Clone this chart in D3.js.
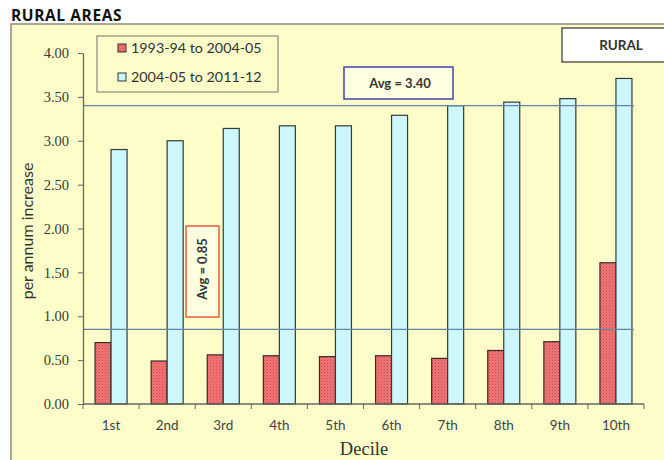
<!DOCTYPE html>
<html>
<head>
<meta charset="utf-8">
<script src="https://cdn.jsdelivr.net/npm/d3@7"></script>
<style>
  html, body { margin: 0; padding: 0; background: #ffffff; }
  svg { display: block; }
</style>
</head>
<body>
<svg id="chart" width="664" height="460"></svg>
<script>
// Per-annum increase in consumption by decile, rural areas
const deciles = ["1st", "2nd", "3rd", "4th", "5th", "6th", "7th", "8th", "9th", "10th"];
const seriesNames = ["1993-94 to 2004-05", "2004-05 to 2011-12"];
const period1 = [0.70, 0.49, 0.56, 0.55, 0.54, 0.55, 0.52, 0.61, 0.71, 1.61];
const period2 = [2.90, 3.00, 3.14, 3.17, 3.17, 3.29, 3.40, 3.44, 3.48, 3.71];
const averages = [0.85, 3.40];
const yTicks = [0, 0.5, 1, 1.5, 2, 2.5, 3, 3.5, 4];

const svg = d3.select("#chart");
const sans = "Lato, 'Open Sans', sans-serif";
const serif = "'Liberation Serif', 'DejaVu Serif', serif";

// Plot region
const plotL = 83, plotR = 644, plotT = 53, plotB = 404;

const x = d3.scaleBand().domain(deciles).range([plotL, plotR]);
const y = d3.scaleLinear().domain([0, 4]).range([plotB, plotT]);
const barW = 16;

// Hatched fill for the first period
const defs = svg.append("defs");
const pat = defs.append("pattern")
  .attr("id", "hatchRed").attr("patternUnits", "userSpaceOnUse")
  .attr("width", 3).attr("height", 3);
pat.append("rect").attr("width", 3).attr("height", 3).attr("fill", "#f27474");
pat.append("rect").attr("x", 0).attr("y", 0).attr("width", 1).attr("height", 1).attr("fill", "#c84a4a");
pat.append("rect").attr("x", 1.5).attr("y", 1.5).attr("width", 1).attr("height", 1).attr("fill", "#d85a5a");

// Chart area
svg.append("rect").attr("x", 11).attr("y", 24).attr("width", 670).attr("height", 460)
  .attr("fill", "#fdfdc9").attr("stroke", "#8a8a80").attr("stroke-width", 1.5);

// Title
svg.append("text").attr("x", 11).attr("y", 21)
  .attr("font-family", "'Open Sans', sans-serif").attr("font-weight", 700)
  .attr("font-size", 15.5).attr("letter-spacing", 0.6).attr("fill", "#111").text("RURAL AREAS");

// Bars
const g = svg.append("g");
g.selectAll("rect.p1").data(period1).join("rect")
  .attr("class", "p1")
  .attr("x", (d, i) => x(deciles[i]) + x.bandwidth() / 2 - barW)
  .attr("y", d => y(d))
  .attr("width", barW)
  .attr("height", d => y(0) - y(d))
  .attr("fill", "url(#hatchRed)")
  .attr("stroke", "#3a2a2a").attr("stroke-width", 1.2);

g.selectAll("rect.p2").data(period2).join("rect")
  .attr("class", "p2")
  .attr("x", (d, i) => x(deciles[i]) + x.bandwidth() / 2)
  .attr("y", d => y(d))
  .attr("width", barW)
  .attr("height", d => y(0) - y(d))
  .attr("fill", "#ccf7fc")
  .attr("stroke", "#333a3a").attr("stroke-width", 1.2);

// Average lines
svg.selectAll("line.avg").data(averages).join("line")
  .attr("class", "avg")
  .attr("x1", plotL).attr("x2", 634)
  .attr("y1", d => y(d)).attr("y2", d => y(d))
  .attr("stroke", "#6684ac").attr("stroke-width", 1.4);

// Y axis
const yAxis = d3.axisLeft(y).tickValues(yTicks).tickFormat(d3.format(".2f"))
  .tickSize(5).tickSizeOuter(0);
const ya = svg.append("g").attr("transform", `translate(${plotL},0)`).call(yAxis);
ya.select(".domain").attr("stroke", "#666").attr("stroke-width", 1.3);
ya.selectAll(".tick line").attr("stroke", "#666");
ya.selectAll(".tick text").attr("font-family", serif).attr("font-size", 14.5)
  .attr("fill", "#3a3a3a").attr("x", -14);

// X axis: ticks on category boundaries
const xa = svg.append("g").attr("transform", `translate(0,${plotB})`);
xa.append("line").attr("x1", plotL).attr("x2", plotR).attr("y1", 0).attr("y2", 0)
  .attr("stroke", "#666").attr("stroke-width", 1.3);
const bounds = deciles.map(d => x(d)).concat([plotR]);
xa.selectAll("line.tk").data(bounds).join("line").attr("class", "tk")
  .attr("x1", d => d).attr("x2", d => d).attr("y1", 0).attr("y2", 5)
  .attr("stroke", "#666");
xa.selectAll("text").data(deciles).join("text")
  .attr("x", d => x(d) + x.bandwidth() / 2).attr("y", 26)
  .attr("text-anchor", "middle")
  .attr("font-family", sans).attr("font-size", 13.5).attr("fill", "#444")
  .text(d => d);

// Axis titles
svg.append("text").attr("x", 364).attr("y", 455).attr("text-anchor", "middle")
  .attr("font-family", serif).attr("font-size", 18.5).attr("fill", "#333").text("Decile");
svg.append("text").attr("transform", "translate(33,231) rotate(-90)")
  .attr("text-anchor", "middle").attr("font-family", sans).attr("font-size", 16)
  .attr("fill", "#333").text("per annum increase");

// Legend
const lg = svg.append("g");
lg.append("rect").attr("x", 97).attr("y", 36).attr("width", 181).attr("height", 56)
  .attr("fill", "#fdfdc9").attr("stroke", "#8a8a80").attr("stroke-width", 1.2);
const fills = ["url(#hatchRed)", "#ccf7fc"];
seriesNames.forEach((name, i) => {
  const cy = 48 + i * 29;
  lg.append("rect").attr("x", 118).attr("y", cy - 4).attr("width", 8).attr("height", 8)
    .attr("fill", fills[i]).attr("stroke", "#333").attr("stroke-width", 1);
  lg.append("text").attr("x", 131).attr("y", cy + 5)
    .attr("font-family", sans).attr("font-size", 14.3).attr("fill", "#333").text(name);
});

// RURAL tag
svg.append("rect").attr("x", 562).attr("y", 28).attr("width", 110).attr("height", 34)
  .attr("fill", "#ffffff").attr("stroke", "#333").attr("stroke-width", 1.2);
svg.append("text").attr("x", 621).attr("y", 50).attr("text-anchor", "middle")
  .attr("font-family", sans).attr("font-weight", 700).attr("font-size", 13.5)
  .attr("fill", "#333").text("RURAL");

// Average labels
svg.append("rect").attr("x", 344).attr("y", 67).attr("width", 109).attr("height", 32)
  .attr("fill", "#fefee0").attr("stroke", "#4444aa").attr("stroke-width", 1.5);
svg.append("text").attr("x", 400).attr("y", 88).attr("text-anchor", "middle")
  .attr("font-family", sans).attr("font-weight", 700).attr("font-size", 13)
  .attr("fill", "#333").text("Avg = " + averages[1].toFixed(2));

svg.append("rect").attr("x", 186).attr("y", 226).attr("width", 33).attr("height", 91)
  .attr("fill", "#fefee0").attr("stroke", "#e0603c").attr("stroke-width", 1.5);
svg.append("text").attr("transform", "translate(207,269) rotate(-90)")
  .attr("text-anchor", "middle")
  .attr("font-family", sans).attr("font-weight", 700).attr("font-size", 13)
  .attr("fill", "#333").text("Avg = " + averages[0].toFixed(2));
</script>
</body>
</html>
